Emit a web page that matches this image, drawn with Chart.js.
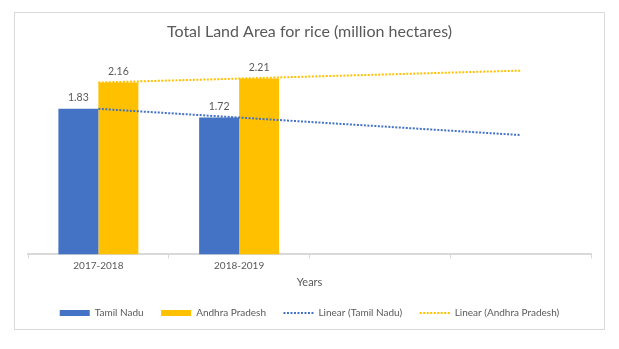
<!DOCTYPE html>
<html>
<head>
<meta charset="utf-8">
<script src="https://cdn.jsdelivr.net/npm/chart.js@4/dist/chart.umd.min.js"></script>
<style>
  html, body { margin: 0; padding: 0; background: #ffffff; }
  #frame { position: absolute; left: 14px; top: 12px; width: 591px; height: 318px; box-sizing: border-box; border: 1px solid #d9d9d9; }
  #c { position: absolute; left: 0; top: 0; }
</style>
</head>
<body>
<div id="frame"></div>
<canvas id="c" width="619" height="349"></canvas>
<script>
const categories = ['2017-2018', '2018-2019', '', ''];
const tamilNadu = [1.83, 1.72, null, null];
const andhraPradesh = [2.16, 2.21, null, null];
const tamilNaduTrend = [1.83, 1.72, 1.61, 1.50];
const andhraPradeshTrend = [2.16, 2.21, 2.26, 2.31];

const FONT = 'Lato';
const TEXT = '#595959';
const BLUE = '#4472C4';
const GOLD = '#FFC000';

const barLabels = {
  id: 'barLabels',
  afterDatasetsDraw(chart) {
    const ctx = chart.ctx;
    ctx.save();
    ctx.font = '10.5px ' + FONT;
    ctx.fillStyle = TEXT;
    ctx.textAlign = 'center';
    ctx.textBaseline = 'middle';
    chart.data.datasets.forEach((ds, i) => {
      if (ds.type !== 'bar') return;
      const meta = chart.getDatasetMeta(i);
      meta.data.forEach((el, j) => {
        const v = ds.data[j];
        if (v === null || v === undefined) return;
        ctx.fillText(v.toFixed(2), el.x, el.y - 11);
      });
    });
    ctx.restore();
  }
};

new Chart(document.getElementById('c'), {
  data: {
    labels: categories,
    datasets: [
      { type: 'bar', label: 'Tamil Nadu', data: tamilNadu, backgroundColor: BLUE, borderWidth: 0, order: 2 },
      { type: 'bar', label: 'Andhra Pradesh', data: andhraPradesh, backgroundColor: GOLD, borderWidth: 0, order: 2 },
      { type: 'line', label: 'Linear (Tamil Nadu)', data: tamilNaduTrend, borderColor: BLUE, backgroundColor: BLUE, borderWidth: 2, borderDash: [2, 1.5], pointRadius: 0, fill: false, tension: 0, order: 1 },
      { type: 'line', label: 'Linear (Andhra Pradesh)', data: andhraPradeshTrend, borderColor: GOLD, backgroundColor: GOLD, borderWidth: 2, borderDash: [2, 1.5], pointRadius: 0, fill: false, tension: 0, order: 1 }
    ]
  },
  options: {
    responsive: false,
    animation: false,
    devicePixelRatio: 1,
    layout: { padding: { left: 28, right: 28, top: 12, bottom: 21 } },
    datasets: { bar: { categoryPercentage: 0.568, barPercentage: 1.0 } },
    scales: {
      x: {
        offset: true,
        grid: { display: true, drawOnChartArea: false, drawTicks: true, tickLength: 4, color: '#d9d9d9', offset: true },
        border: { display: true, color: '#d9d9d9', width: 2 },
        ticks: { color: TEXT, font: { family: FONT, size: 10 }, padding: 1.5 },
        title: { display: true, text: 'Years', color: TEXT, font: { family: FONT, size: 11 }, padding: { top: 2.4, bottom: 1.5 } }
      },
      y: { display: false, min: 0, max: 2.5 }
    },
    plugins: {
      title: { display: true, text: 'Total Land Area for rice (million hectares)', color: TEXT, font: { family: FONT, size: 16, weight: 'normal' }, padding: { top: 10, bottom: 14.3 } },
      legend: {
        position: 'bottom',
        labels: {
          color: TEXT,
          font: { family: FONT, size: 10 },
          usePointStyle: true,
          pointStyleWidth: 30,
          boxWidth: 30,
          boxHeight: 6,
          padding: 17.5,
          sort: (a, b) => a.datasetIndex - b.datasetIndex,
          generateLabels(chart) {
            const items = Chart.defaults.plugins.legend.labels.generateLabels(chart);
            items.forEach(it => {
              const ds = chart.data.datasets[it.datasetIndex];
              if (ds.type === 'line') {
                it.pointStyle = 'line';
                it.lineWidth = 2;
                it.lineDash = [2, 1.5];
                it.strokeStyle = ds.borderColor;
              } else {
                it.pointStyle = 'rect';
                it.lineWidth = 0;
                it.fillStyle = ds.backgroundColor;
              }
            });
            return items;
          }
        }
      },
      tooltip: { enabled: false }
    }
  },
  plugins: [barLabels]
});
</script>
</body>
</html>
